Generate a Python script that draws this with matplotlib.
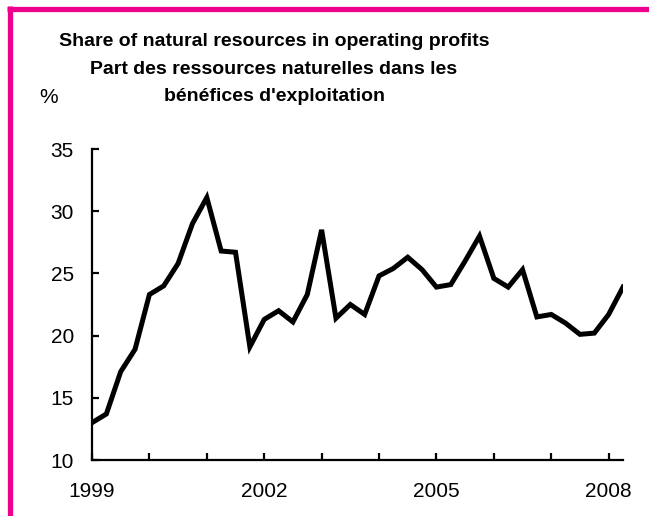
import matplotlib.pyplot as plt
from matplotlib.lines import Line2D

plt.rcParams['font.family'] = ['Liberation Sans', 'DejaVu Sans']

# quarterly, 1999 Q1 .. 2008 Q2
start_year = 1999
share = [13.0, 13.7, 17.1, 18.9, 23.3, 24.0, 25.8, 29.0,
         31.1, 26.8, 26.7, 19.1, 21.3, 22.0, 21.1, 23.3,
         28.5, 21.4, 22.5, 21.7, 24.8, 25.4, 26.3, 25.3,
         23.9, 24.1, 26.0, 28.0, 24.6, 23.9, 25.3, 21.5,
         21.7, 21.0, 20.1, 20.2, 21.7, 23.9]
year_ticks = list(range(1999, 2009))
year_labels = ['1999', '', '', '2002', '', '', '2005', '', '', '2008']
y_ticks = [10, 15, 20, 25, 30, 35]

title_lines = ["Share of natural resources in operating profits",
               "Part des ressources naturelles dans les",
               "bénéfices d'exploitation"]

pink = '#EC008C'

fig = plt.figure(figsize=(6.49, 5.16), dpi=100)
ax = fig.add_axes([92/649, 1 - 460/516, (623-92)/649, (460-149)/516])

x = [start_year + i/4 for i in range(len(share))]
ax.plot(x, share, color='black', lw=3.6, solid_joinstyle='miter')

ax.set_xlim(1999, 1999 + (len(share)-1)/4)
ax.set_ylim(10, 35)
ax.set_xticks(year_ticks)
ax.set_xticklabels(year_labels)
ax.set_yticks(y_ticks)

for s in ['top', 'right']:
    ax.spines[s].set_visible(False)
for s in ['left', 'bottom']:
    ax.spines[s].set_linewidth(1.6)
ax.tick_params(axis='both', direction='in', length=5, width=1.6,
               labelsize=15, colors='black')
ax.tick_params(axis='x', pad=16)
ax.tick_params(axis='y', pad=13)

# title, one line at a time (baselines)
for line, base in zip(title_lines, [46, 74, 101]):
    fig.text(274/649, 1 - base/516, line, ha='center', va='baseline',
             fontsize=14, fontweight='bold')
fig.text(39/649, 1 - 103/516, '%', ha='left', va='baseline', fontsize=15)

# pink frame (top and left only)
fig.add_artist(Line2D([7/649, 1], [1 - 8.5/516] * 2, color=pink, lw=3.8,
                      transform=fig.transFigure, solid_capstyle='butt'))
fig.add_artist(Line2D([9.5/649] * 2, [0, 1 - 6/516], color=pink, lw=3.8,
                      transform=fig.transFigure, solid_capstyle='butt'))

fig.savefig('out.png', dpi=100)
